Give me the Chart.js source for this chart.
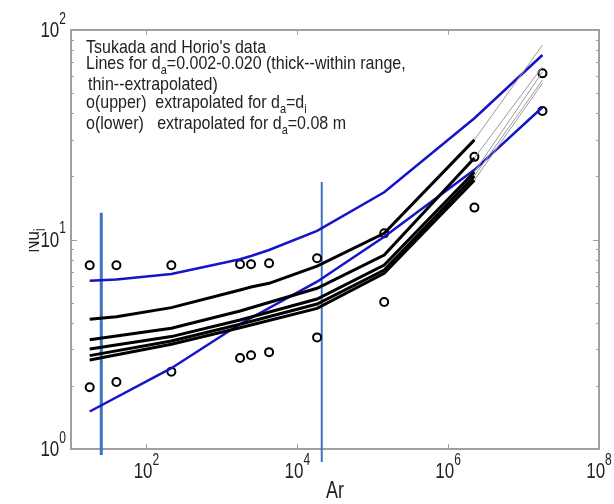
<!DOCTYPE html>
<html>
<head>
<meta charset="utf-8">
<script src="https://cdn.jsdelivr.net/npm/chart.js@4.4.1/dist/chart.umd.min.js"></script>
<style>
    html, body { margin: 0; padding: 0; background: #fff; }
    #wrap { width: 614px; height: 504px; }
</style>
</head>
<body>
<div id="wrap"><canvas id="chart" width="614" height="504"></canvas></div>
<script>
// Ar values of the data points (Tsukada and Horio)
const arPoints = [17.7, 40, 214, 1743, 2438, 4227, 18300, 1.42e5, 2.23e6, 1.78e7];
const nuUpper = [7.53, 7.53, 7.53, 7.62, 7.62, 7.70, 8.13, 10.7, 24.8, 62.1];
const nuLower = [1.97, 2.09, 2.34, 2.72, 2.80, 2.90, 3.41, 5.03, 14.2, 41.1];

// blue curves
const arBlueUpper = [17.7, 40, 214, 1743, 2438, 4227, 18300, 1.42e5, 2.23e6, 1.78e7];
const nuBlueUpper = [6.36, 6.44, 6.84, 8.05, 8.34, 8.91, 11.0, 16.8, 37.9, 76.0];
const arBlueLower = [17.7, 214, 1743, 18300, 1.42e5, 2.23e6, 1.78e7];
const nuBlueLower = [1.51, 2.43, 3.95, 6.29, 10.3, 21.5, 42.8];

// thick black lines, d_a = 0.002 - 0.020
const arThick1 = [17.7, 40, 214, 1743, 2438, 4227, 18300, 1.42e5, 2.23e6];
const nuThick1 = [4.16, 4.28, 4.73, 5.74, 5.93, 6.18, 7.47, 10.7, 29.9];
const arThick = [17.7, 214, 1743, 18300, 1.42e5, 2.23e6];
const nuThick2 = [3.32, 3.77, 4.56, 5.85, 8.43, 24.5];
const nuThick3 = [3.00, 3.44, 4.13, 5.20, 7.55, 21.0];
const nuThick4 = [2.79, 3.28, 3.94, 4.92, 7.15, 20.1];
const nuThick5 = [2.66, 3.16, 3.79, 4.69, 6.90, 19.2];

// thin extrapolated parts
const arThin = [2.23e6, 1.78e7];
const nuThinEnd = [84.8, 66.8, 63.1, 57.7, 55.7];

// the two vertical marker lines
const arMarks = [25.2, 21100];
const nuMarkTop = [13.4, 18.8];
const nuMarkBottom = [0.936, 0.867];

const xTicks = [100, 1e4, 1e6, 1e8];
const xTickExp = ['2', '4', '6', '8'];
const yTicks = [1, 10, 100];
const yTickExp = ['0', '1', '2'];

const BLUE = '#1414c8';
const MARK = '#3d74bd';
const FONT = '"Liberation Sans", Arial, sans-serif';

function pts(xs, ys) {
    return xs.map((x, i) => ({ x: x, y: ys[i] }));
}

function lineSet(data, color, width, extra) {
    return Object.assign({
        type: 'line',
        data: data,
        borderColor: color,
        borderWidth: width,
        pointRadius: 0,
        fill: false,
        tension: 0
    }, extra || {});
}

// text with sub / superscripts, stretched vertically like the original picture
function richText(ctx, x, y, parts, size, align, stretch) {
    ctx.save();
    ctx.font = size + 'px ' + FONT;
    let small = Math.round(size * 0.7);
    let w = 0;
    parts.forEach(p => {
        ctx.font = (p[1] ? small : size) + 'px ' + FONT;
        w += ctx.measureText(p[0]).width;
    });
    let start = x;
    if (align == 'center') start = x - w / 2;
    if (align == 'right') start = x - w;
    ctx.translate(start, y);
    ctx.scale(1, stretch);
    ctx.textBaseline = 'middle';
    ctx.textAlign = 'left';
    let cx = 0;
    parts.forEach(p => {
        let dy = 0;
        if (p[1] == 'sub') dy = size * 0.35;
        if (p[1] == 'sup') dy = -size * 0.5;
        ctx.font = (p[1] ? small : size) + 'px ' + FONT;
        ctx.fillText(p[0], cx, dy);
        cx += ctx.measureText(p[0]).width;
    });
    ctx.restore();
}

const frame = {
    id: 'frame',
    beforeDatasetsDraw(chart) {
        const ctx = chart.ctx;
        const a = chart.chartArea;
        const xs = chart.scales.x, ys = chart.scales.y;
        ctx.save();
        ctx.strokeStyle = '#a0a0a0';
        ctx.lineWidth = 2;
        ctx.strokeRect(a.left, a.top, a.right - a.left, a.bottom - a.top);
        ctx.lineWidth = 1;
        ctx.beginPath();
        // y ticks, major and minor, both sides
        for (let d = 1; d < 100; d *= 10) {
            for (let m = 1; m <= 10; m++) {
                let py = Math.round(ys.getPixelForValue(d * m)) + 0.5;
                let len = (m == 1 || m == 10) ? 6 : 3;
                ctx.moveTo(a.left, py); ctx.lineTo(a.left + len, py);
                ctx.moveTo(a.right, py); ctx.lineTo(a.right - len, py);
            }
        }
        xTicks.forEach(v => {
            let px = Math.round(xs.getPixelForValue(v)) + 0.5;
            ctx.moveTo(px, a.bottom); ctx.lineTo(px, a.bottom - 5);
            ctx.moveTo(px, a.top); ctx.lineTo(px, a.top + 5);
        });
        ctx.stroke();
        ctx.restore();
    },
    afterDraw(chart) {
        const ctx = chart.ctx;
        const a = chart.chartArea;
        const xs = chart.scales.x, ys = chart.scales.y;
        ctx.save();
        ctx.fillStyle = '#222';
        yTicks.forEach((v, i) => {
            richText(ctx, a.left - 5, ys.getPixelForValue(v) + 1, [['10', ''], [yTickExp[i], 'sup']], 17, 'right', 1.35);
        });
        xTicks.forEach((v, i) => {
            richText(ctx, xs.getPixelForValue(v), a.bottom + 23, [['10', ''], [xTickExp[i], 'sup']], 17, 'center', 1.35);
        });
        richText(ctx, (a.left + a.right) / 2, a.bottom + 43, [['Ar', '']], 18, 'center', 1.3);

        // y axis title, cut on the left as in the original
        ctx.save();
        ctx.beginPath();
        ctx.rect(29, 200, 30, 90);
        ctx.clip();
        ctx.translate(40, (a.top + a.bottom) / 2 + 1);
        ctx.rotate(-Math.PI / 2);
        richText(ctx, 0, -7, [['Nu', ''], ['i', 'sub']], 17, 'center', 1.3);
        ctx.restore();

        const tx = a.left + 15;
        const s = 16;
        const k = 1.12;
        richText(ctx, tx, a.top + 18, [["Tsukada and Horio's data", '']], s, 'left', k);
        richText(ctx, tx, a.top + 34, [['Lines for d', ''], ['a', 'sub'], ['=0.002-0.020 (thick--within range,', '']], s, 'left', k);
        richText(ctx, tx + 2, a.top + 55, [['thin--extrapolated)', '']], s, 'left', k);
        richText(ctx, tx, a.top + 73, [['o(upper)  extrapolated for d', ''], ['a', 'sub'], ['=d', ''], ['i', 'sub']], s, 'left', k);
        richText(ctx, tx, a.top + 94, [['o(lower)   extrapolated for d', ''], ['a', 'sub'], ['=0.08 m', '']], s, 'left', k);
        ctx.restore();
    }
};

const datasets = [];
nuThinEnd.forEach((v, i) => {
    let startNu = [nuThick1, nuThick2, nuThick3, nuThick4, nuThick5][i];
    datasets.push(lineSet(pts(arThin, [startNu[startNu.length - 1], v]), '#9a9a9a', 1));
});
datasets.push(lineSet(pts(arThick1, nuThick1), '#000', 3));
[nuThick2, nuThick3, nuThick4, nuThick5].forEach(n => {
    datasets.push(lineSet(pts(arThick, n), '#000', 3));
});
datasets.push(lineSet(pts(arBlueUpper, nuBlueUpper), BLUE, 2.5));
datasets.push(lineSet(pts(arBlueLower, nuBlueLower), BLUE, 2.5));
datasets.push({
    type: 'scatter',
    data: pts(arPoints, nuUpper).concat(pts(arPoints, nuLower)),
    pointStyle: 'circle',
    pointRadius: 4,
    borderWidth: 2,
    borderColor: '#000',
    backgroundColor: 'rgba(0,0,0,0)'
});
arMarks.forEach((ar, i) => {
    datasets.push(lineSet([{ x: ar, y: nuMarkTop[i] }, { x: ar, y: nuMarkBottom[i] }], MARK, i == 0 ? 3 : 2, { clip: false }));
});

new Chart(document.getElementById('chart'), {
    type: 'scatter',
    data: { datasets: datasets },
    options: {
        responsive: false,
        animation: false,
        layout: { padding: { left: 71, top: 30, right: 15, bottom: 55 } },
        plugins: { legend: { display: false }, tooltip: { enabled: false } },
        scales: {
            x: { type: 'logarithmic', min: 10, max: 1e8, display: false },
            y: { type: 'logarithmic', min: 1, max: 100, display: false }
        }
    },
    plugins: [frame]
});
</script>
</body>
</html>
